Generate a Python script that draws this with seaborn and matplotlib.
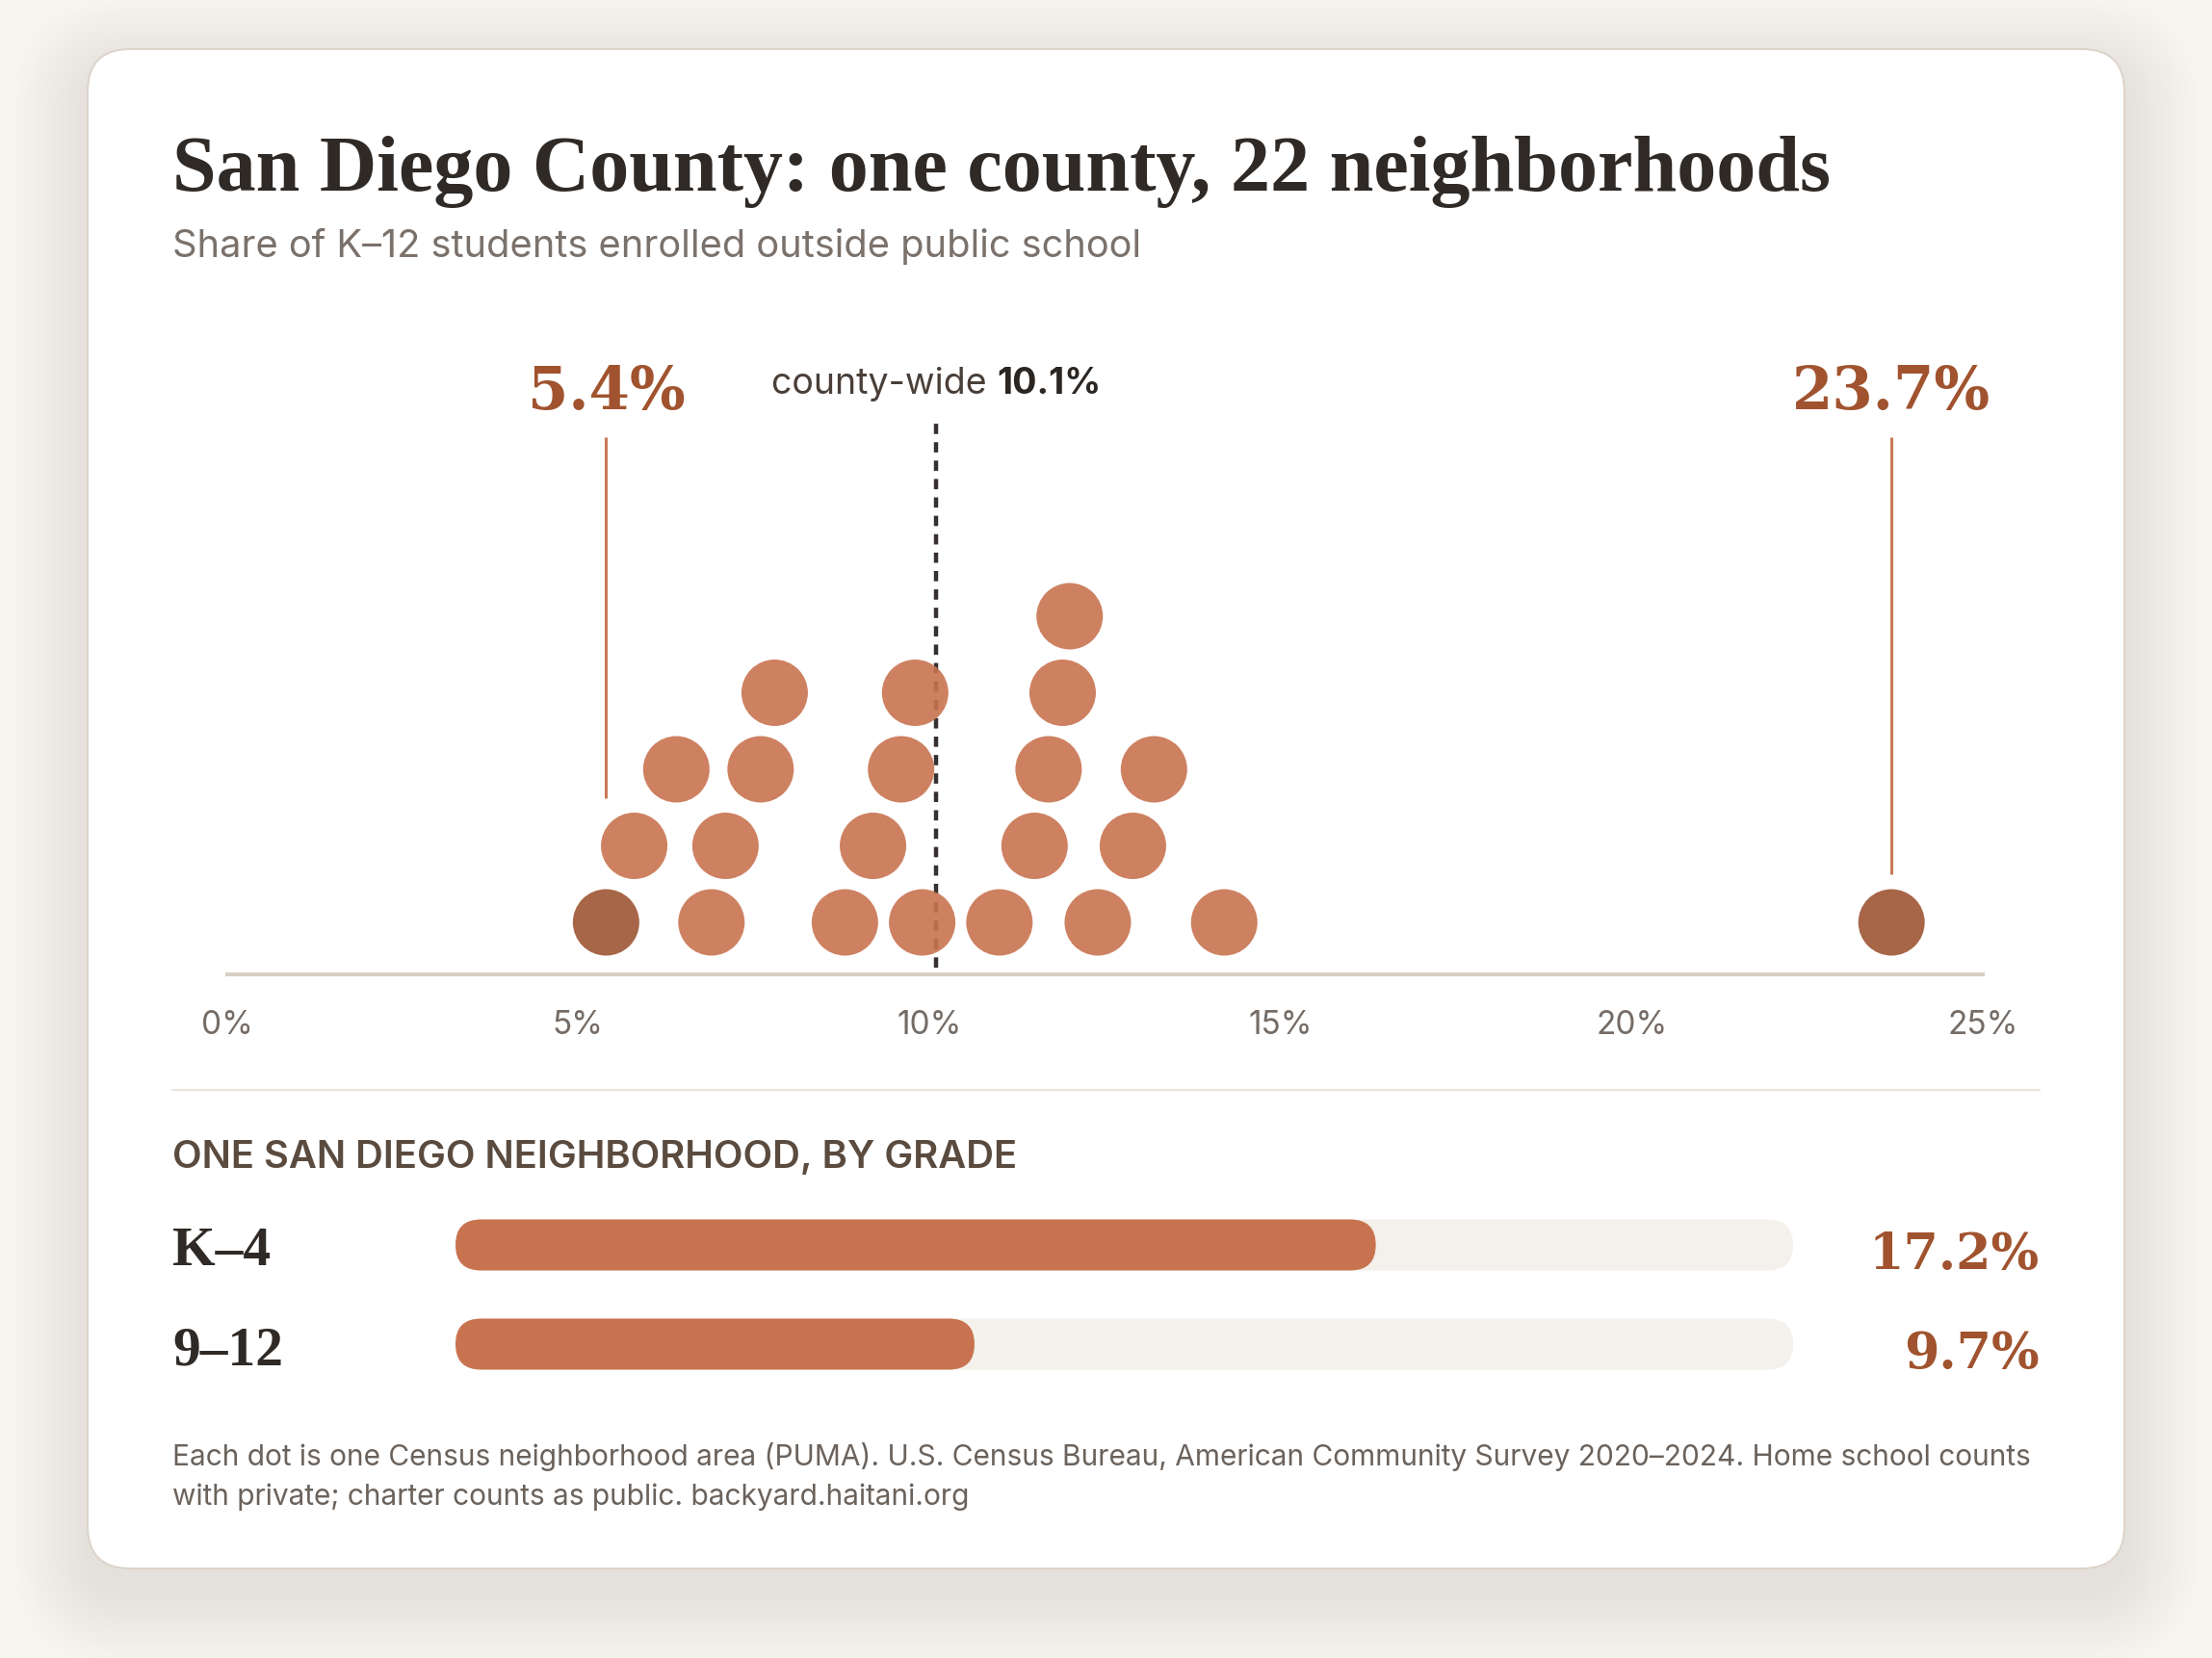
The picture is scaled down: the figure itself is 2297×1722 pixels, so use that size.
import numpy as np
import pandas as pd
import matplotlib
matplotlib.use("Agg")
import matplotlib.pyplot as plt
import seaborn as sns
from matplotlib.patches import FancyBboxPatch
from matplotlib.transforms import blended_transform_factory

# ---------------- data ----------------
puma_share = [5.4, 5.8, 6.4, 6.9, 7.1, 7.6, 7.8, 8.8, 9.2, 9.6, 9.8, 9.9,
              11.0, 11.5, 11.7, 11.9, 12.0, 12.4, 12.9, 13.2, 14.2, 23.7]
county_wide = 10.1
grade_labels = ["K–4", "9–12"]
grade_values = [17.2, 9.7]
tick_values = [0, 5, 10, 15, 20, 25]
tick_labels = ["0%", "5%", "10%", "15%", "20%", "25%"]

title_text = "San Diego County: one county, 22 neighborhoods"
subtitle_text = "Share of K–12 students enrolled outside public school"
section_text = "ONE SAN DIEGO NEIGHBORHOOD, BY GRADE"
footer_lines = [
    "Each dot is one Census neighborhood area (PUMA). U.S. Census Bureau, American Community Survey 2020–2024. Home school counts",
    "with private; charter counts as public. backyard.haitani.org",
]

# ---------------- style ----------------
sns.set_style("white")
plt.rcParams["font.family"] = ["Inter", "DejaVu Sans"]
SERIF = ["Liberation Serif", "DejaVu Serif"]
NUMSERIF = ["DejaVu Serif"]

BG = "#F8F4F0"
CARD = "#FFFFFF"
INK = "#2F2A26"
MUTED = "#7B716B"
ACCENT_TXT = "#A0532E"
DOT = "#C87350"
DOT_DARK = "#9E5534"
LEADER = "#C97A57"
TRACK = "#F4F0EB"
FILL = "#C8734F"

W, H, DPI = 2297, 1722, 100
fig = plt.figure(figsize=(W / DPI, H / DPI), dpi=DPI, facecolor=BG)
renderer = fig.canvas.get_renderer()


def px_axes(x0, y0, x1, y1, **kw):
    return fig.add_axes([x0 / W, 1 - y1 / H, (x1 - x0) / W, (y1 - y0) / H], **kw)


def fit_width(t, target):
    for _ in range(3):
        bb = t.get_window_extent(renderer=renderer)
        t.set_fontsize(t.get_fontsize() * target / bb.width)


# background / card layer in pixel coordinates (y down)
bg = px_axes(0, 0, W, H, zorder=0)
bg.set_xlim(0, W)
bg.set_ylim(H, 0)
bg.axis("off")

CX0, CY0, CX1, CY1 = 91, 51, 2206, 1629
for i in range(20):
    grow = 2 + i * 4
    bg.add_patch(FancyBboxPatch((CX0 - grow, CY0 - grow + 24), CX1 - CX0 + 2 * grow,
                                CY1 - CY0 + 2 * grow,
                                boxstyle=f"round,pad=0,rounding_size={44 + grow}",
                                facecolor="#B09478", edgecolor="none", alpha=0.0065))
bg.add_patch(FancyBboxPatch((CX0, CY0), CX1 - CX0, CY1 - CY0,
                            boxstyle="round,pad=0,rounding_size=44",
                            facecolor=CARD, edgecolor="#DDD3C8", linewidth=1.4))

LEFT, RIGHT = 179, 2118

t = bg.text(LEFT, 198, title_text, family=SERIF, fontweight="bold", color=INK,
            va="baseline", ha="left", fontsize=50)
fit_width(t, 1724)
t = bg.text(LEFT, 267, subtitle_text, color=MUTED, va="baseline", ha="left", fontsize=28)
fit_width(t, 1006)

# ---------------- dot strip ----------------
X0, X1 = 235.5, 2059
AX_TOP, AX_BOTTOM = 380, 1012
ROW = 79.5
BASE = 54
DIAM = 69
ax = px_axes(X0, AX_TOP, X1, AX_BOTTOM, zorder=2)
ax.set_facecolor("none")
ax.set_xlim(0, 25)
ax.set_ylim(0, (AX_BOTTOM - AX_TOP) / ROW)


def ydata(p):
    return (AX_BOTTOM - p) / ROW


# stack dots: each dot goes to the lowest row with no neighbour closer than the gap
GAP = 1.05
rows = []
levels = {}
for i in np.argsort(puma_share, kind="stable"):
    v = puma_share[i]
    k = 0
    while True:
        if k == len(rows):
            rows.append([])
        if all(abs(v - u) >= GAP for u in rows[k]):
            rows[k].append(v)
            levels[i] = k
            break
        k += 1

df = pd.DataFrame({"share": puma_share,
                   "level": [levels[i] for i in range(len(puma_share))]})
df["y"] = BASE / ROW + df["level"]
lo, hi = min(puma_share), max(puma_share)
df["kind"] = np.where(df["share"].isin([lo, hi]), "extreme", "typical")

# county-wide dashed marker
ax.plot([county_wide, county_wide], [ydata(1005), ydata(436)], color="#363130",
        lw=3.2, linestyle=(0, (2.4, 1.9)), zorder=1, solid_capstyle="butt",
        dash_capstyle="butt")

sns.scatterplot(data=df, x="share", y="y", hue="kind",
                palette={"typical": DOT, "extreme": DOT_DARK},
                s=(DIAM * 72 / DPI) ** 2, alpha=0.9, linewidth=0,
                legend=False, ax=ax, zorder=3, clip_on=False)

# extreme labels with leader lines
r_data = DIAM / 2 / ((X1 - X0) / 25)
for v in (lo, hi):
    near = df[(df["share"] - v).abs() < r_data]
    top_px = AX_BOTTOM - BASE - near["level"].max() * ROW - DIAM / 2 - 15
    ax.plot([v, v], [ydata(454), ydata(top_px)], color=LEADER, lw=2.2,
            solid_capstyle="butt", zorder=2)
    lt = ax.text(v, ydata(425), f"{v}%", family=NUMSERIF, fontweight="bold",
                 color=ACCENT_TXT, ha="center", va="baseline", fontsize=40, clip_on=False)
    if v == hi:
        fit_width(lt, 206)
        big_fs = lt.get_fontsize()
for tx in ax.texts:
    tx.set_fontsize(big_fs)

# county-wide label, centred on the marker
cx = X0 + county_wide / 25 * (X1 - X0)
t1 = bg.text(0, 409, "county-wide ", color="#4A3F38", va="baseline", ha="left", fontsize=27)
t2 = bg.text(0, 409, f"{county_wide}%", color="#2B2622", fontweight="bold",
             va="baseline", ha="left", fontsize=27)
w1 = t1.get_window_extent(renderer=renderer).width
w2 = t2.get_window_extent(renderer=renderer).width
t1.set_x(cx - (w1 + w2) / 2)
t2.set_x(cx - (w1 + w2) / 2 + w1)

# axis styling
for s in ("top", "right", "left"):
    ax.spines[s].set_visible(False)
ax.spines["bottom"].set_color("#D8CEC3")
ax.spines["bottom"].set_linewidth(2.9)
ax.set_xticks(tick_values, tick_labels)
ax.set_yticks([])
ax.tick_params(axis="x", length=0, pad=27, labelsize=24, labelcolor="#756B65")
ax.set_xlabel("")
ax.set_ylabel("")

# separator
bg.plot([LEFT, RIGHT], [1132, 1132], color="#EAE4DE", lw=1.6)

# ---------------- grade bars ----------------
t = bg.text(LEFT, 1213, section_text, color="#5B4B3F", fontweight="semibold",
            va="baseline", ha="left", fontsize=24)
fit_width(t, 877)

BX0, BX1 = 473, 1862
BY0, BY1 = 1241.5, 1447.5
bax = px_axes(BX0, BY0, BX1, BY1, zorder=2)
bax.set_facecolor("none")
bdf = pd.DataFrame({"grade": grade_labels, "value": grade_values,
                    "full": [25] * len(grade_values)})
BAR_H = 53 / ((BY1 - BY0) / len(grade_labels))
sns.barplot(data=bdf, x="full", y="grade", color=TRACK, width=BAR_H,
            saturation=1, ax=bax)
sns.barplot(data=bdf, x="value", y="grade", color=FILL, width=BAR_H,
            saturation=1, ax=bax)
bax.set_xlim(0, 25)
bax.set_ylim(len(grade_labels) - 0.5, -0.5)
bax.axis("off")

# turn the bars into pills
x_per_px = 25 / (BX1 - BX0)
y_per_px = len(grade_labels) / (BY1 - BY0)
asp = y_per_px / x_per_px
rects = list(bax.patches)
for rct in rects:
    x0, y0, w, h = rct.get_x(), rct.get_y(), rct.get_width(), rct.get_height()
    fc = rct.get_facecolor()
    rct.remove()
    rad = (h / asp) / 2
    bax.add_patch(FancyBboxPatch((x0, y0), w, h,
                                 boxstyle=f"round,pad=0,rounding_size={rad}",
                                 mutation_aspect=asp, facecolor=fc, edgecolor="none"))

tr = blended_transform_factory(bg.transData, bax.transData)
px_to_y = y_per_px
for i, (lab, val) in enumerate(zip(grade_labels, grade_values)):
    gt = bax.text(LEFT, i + 21 * px_to_y, lab, transform=tr, family=SERIF,
                  fontweight="bold", color=INK, ha="left", va="baseline",
                  fontsize=36, clip_on=False)
    if i == 0:
        fit_width(gt, 102)
        gfs = gt.get_fontsize()
    else:
        gt.set_fontsize(gfs)
    vt = bax.text(RIGHT, i + 25 * px_to_y, f"{val}%", transform=tr, family=NUMSERIF,
                  fontweight="bold", color=ACCENT_TXT, ha="right", va="baseline",
                  fontsize=40, clip_on=False)
    if i == 0:
        fit_width(vt, 177)
        vfs = vt.get_fontsize()
    else:
        vt.set_fontsize(vfs)

# ---------------- footer ----------------
f1 = bg.text(LEFT, 1522, footer_lines[0], color="#6B625B", va="baseline",
             ha="left", fontsize=20)
fit_width(f1, 1937)
bg.text(LEFT, 1563, footer_lines[1], color="#6B625B", va="baseline",
        ha="left", fontsize=f1.get_fontsize())

fig.savefig("out.png", dpi=DPI, facecolor=BG)
